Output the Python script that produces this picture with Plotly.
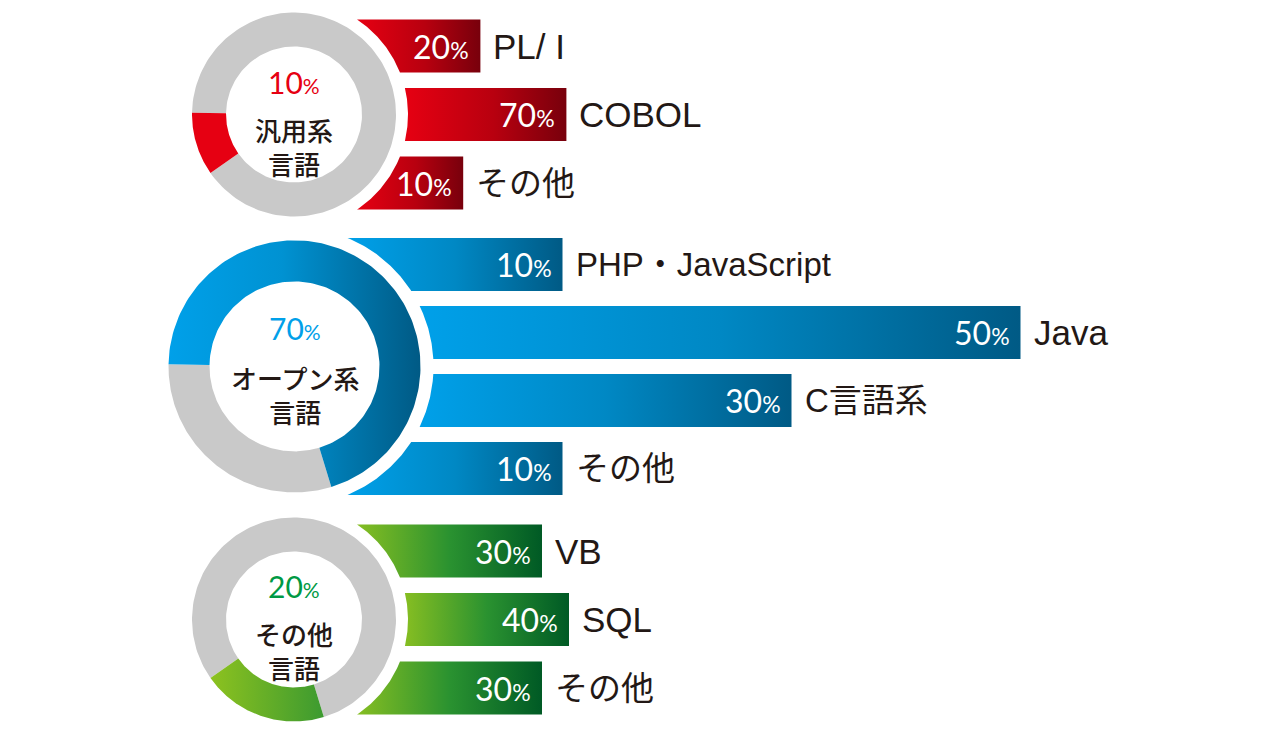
import numpy as np
import plotly.graph_objects as go

# ---------------- data ----------------
group_title_lines = [["汎用系", "言語"], ["オープン系", "言語"], ["その他", "言語"]]
group_share = [10, 70, 20]

general_labels = ["PL/ I", "COBOL", "その他"]
general_values = [20, 70, 10]

open_labels = ["PHP・JavaScript", "Java", "C言語系", "その他"]
open_values = [10, 50, 30, 10]

other_labels = ["VB", "SQL", "その他"]
other_values = [30, 40, 30]

# ---------------- style / layout ----------------
W, H = 1268, 735
TEXT = "#231815"
GRAY = "#c9c9c9"
NUM_FONT = "Lato, Noto Sans CJK JP"
JP_FONT = "Noto Sans CJK JP"
LBL_FONT = "Liberation Sans, Noto Sans CJK JP"

styles = [
    dict(labels=general_labels, values=general_values,
         cx=294, cy=114.5, ro=102, ri=68, rg=114, anchor=271, direction=-1,
         x0=446, k=1.72, pitch=68.5, bh=53,
         main="#e60012",
         arc_scale=[[0, "#e60012"], [1, "#e60012"]],
         bar_scale=[[0, "#e60012"], [0.55, "#b8000f"], [1, "#78000c"]],
         ty=(82, 146)),
    dict(labels=open_labels, values=open_values,
         cx=294.5, cy=366.4, ro=126, ri=85, rg=139, anchor=271, direction=1,
         x0=448, k=11.45, pitch=68, bh=53,
         main="#00a0e9",
         arc_scale=[[0, "#00a0e9"], [0.45, "#0092d2"], [1, "#005a85"]],
         bar_scale=[[0, "#00a0e9"], [0.5, "#0088c4"], [1, "#005a85"]],
         ty=(328, 394.5)),
    dict(labels=other_labels, values=other_values,
         cx=294, cy=619.5, ro=102, ri=68, rg=114, anchor=163, direction=1,
         x0=461, k=2.7, pitch=68.5, bh=53,
         main="#009944",
         arc_scale=[[0, "#8dc21f"], [1, "#3c9a30"]],
         bar_scale=[[0, "#86be22"], [0.5, "#2a9230"], [1, "#005a25"]],
         ty=(586, 650)),
]


def sector(cx, cy, ro, ri, a0, a1, n=160):
    t = np.radians(np.linspace(a0, a1, n))
    xo = cx + ro * np.sin(t)
    yo = cy - ro * np.cos(t)
    xi = cx + ri * np.sin(t[::-1])
    yi = cy - ri * np.cos(t[::-1])
    return np.concatenate([xo, xi, xo[:1]]), np.concatenate([yo, yi, yo[:1]])


def bar_shape(cx, cy, rg, yc, h, xr, n=50):
    yt, yb = yc - h / 2, yc + h / 2
    ys = np.linspace(yb, yt, n)
    xs = cx + np.sqrt(rg ** 2 - (ys - cy) ** 2)
    x = [xs[-1], xr, xr] + list(xs)
    y = [yt, yt, yb] + list(ys)
    return x, y


def pct(v, size):
    return f"{v}<span style='font-size:{size}px'>%</span>"


fig = go.Figure()
ann = []

for gi, s in enumerate(styles):
    share = group_share[gi]
    span = 360 * share / 100
    if s["direction"] > 0:
        c0, c1 = s["anchor"], s["anchor"] + span
    else:
        c0, c1 = s["anchor"] - span, s["anchor"]
    # gray remainder
    gx, gy = sector(s["cx"], s["cy"], s["ro"], s["ri"], c1, c0 + 360)
    fig.add_trace(go.Scatter(x=gx, y=gy, mode="lines", fill="toself",
                             fillcolor=GRAY, line=dict(width=0),
                             hoverinfo="skip", showlegend=False))
    # colored share
    sx, sy = sector(s["cx"], s["cy"], s["ro"], s["ri"], c0, c1)
    fig.add_trace(go.Scatter(x=sx, y=sy, mode="lines", fill="toself",
                             fillgradient=dict(type="horizontal", colorscale=s["arc_scale"]),
                             line=dict(width=0), hoverinfo="skip", showlegend=False))

    # center texts
    ann.append(dict(x=s["cx"], y=s["ty"][0], text=pct(share, 21), showarrow=False,
                    xanchor="center", yanchor="middle",
                    font=dict(family=NUM_FONT, size=30, color=s["main"])))
    ann.append(dict(x=s["cx"], y=s["ty"][1], text="<br>".join(group_title_lines[gi]),
                    showarrow=False, xanchor="center", yanchor="middle",
                    font=dict(family=JP_FONT, size=26, color=TEXT, weight=500)))

    # bars
    n = len(s["values"])
    for i, (lab, v) in enumerate(zip(s["labels"], s["values"])):
        yc = s["cy"] + (i - (n - 1) / 2) * s["pitch"]
        xr = s["x0"] + s["k"] * v
        bx, by = bar_shape(s["cx"], s["cy"], s["rg"], yc, s["bh"], xr)
        fig.add_trace(go.Scatter(x=bx, y=by, mode="lines", fill="toself",
                                 fillgradient=dict(type="horizontal", colorscale=s["bar_scale"]),
                                 line=dict(width=0), hoverinfo="skip", showlegend=False))
        ann.append(dict(x=xr - 9, y=yc, text=pct(v, 23), showarrow=False,
                        xanchor="right", yanchor="middle",
                        font=dict(family=NUM_FONT, size=32, color="white")))
        lsize = 35 if lab.isascii() else 33
        ann.append(dict(x=xr + 11, y=yc, text=lab, showarrow=False,
                        xanchor="left", yanchor="middle",
                        font=dict(family=LBL_FONT, size=lsize, color=TEXT)))

fig.update_layout(
    width=W, height=H, autosize=False,
    margin=dict(l=0, r=0, t=0, b=0),
    paper_bgcolor="white", plot_bgcolor="white",
    xaxis=dict(range=[0, W], visible=False, fixedrange=True),
    yaxis=dict(range=[H, 0], visible=False, fixedrange=True),
    annotations=ann, showlegend=False, hovermode=False,
)

fig.write_html("out.html")
